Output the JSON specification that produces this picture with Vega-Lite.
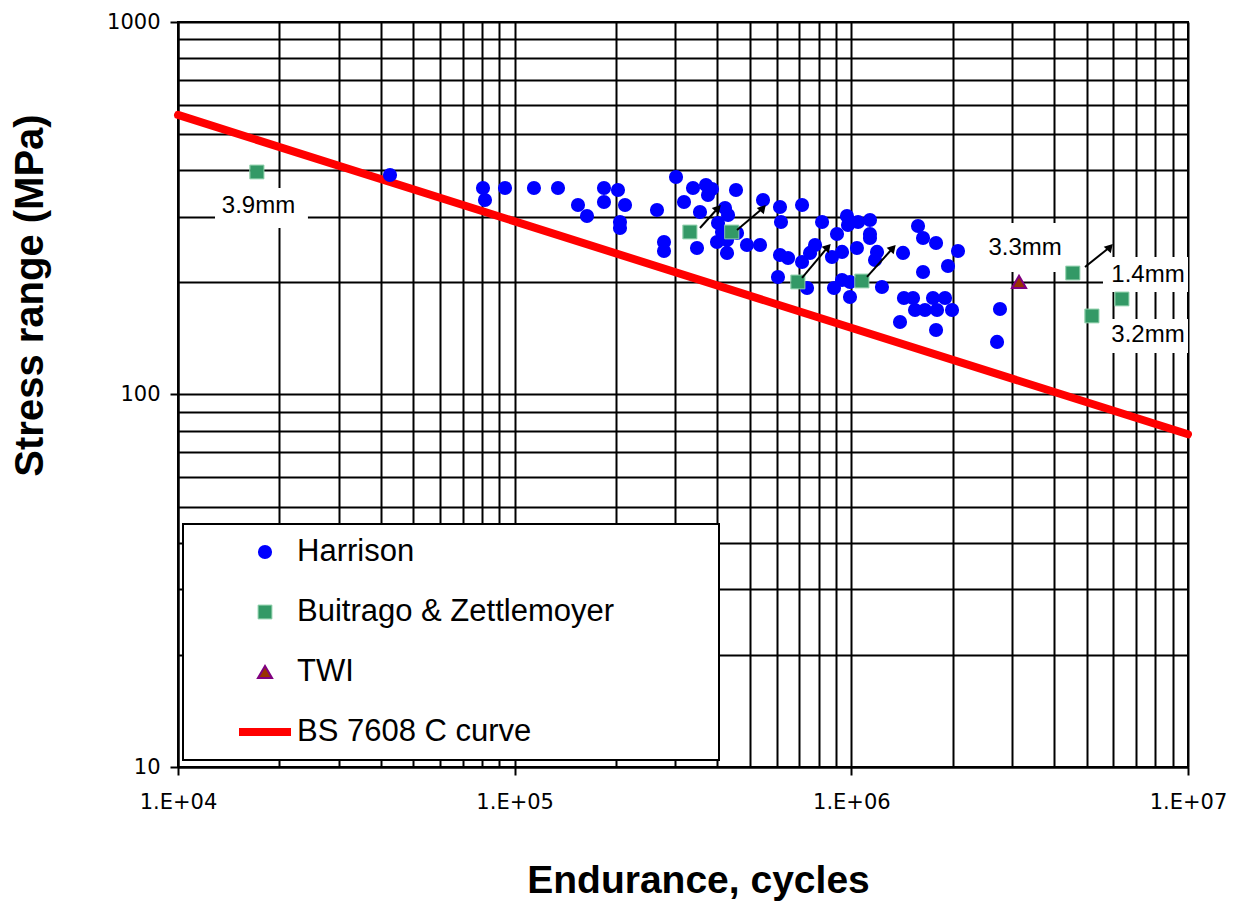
{
  "$schema": "https://vega.github.io/schema/vega-lite/v6.json",
  "width": 1010,
  "height": 745,
  "autosize": {"type": "none"},
  "padding": {"left": 178, "top": 22, "right": 48, "bottom": 137},
  "background": "white",
  "config": {
    "view": {"stroke": "black", "strokeWidth": 2},
    "font": "Liberation Sans",
    "legend": {
      "orient": "none",
      "legendX": 5,
      "legendY": 502,
      "padding": 12,
      "rowPadding": 28,
      "clipHeight": 32,
      "fillColor": "white",
      "strokeColor": "black",
      "strokeWidth": 2,
      "symbolOffset": 40,
      "labelOffset": 2,
      "labelFont": "Liberation Sans",
      "labelFontSize": 31,
      "labelColor": "black",
      "labelLimit": 900,
      "symbolOpacity": 1
    }
  },
  "datasets": {
    "pts": [
      {"s": "Harrison", "N": 42630, "S": 388.5},
      {"s": "Harrison", "N": 80520, "S": 358.4},
      {"s": "Harrison", "N": 81630, "S": 332.8},
      {"s": "Harrison", "N": 93610, "S": 358.4},
      {"s": "Harrison", "N": 114100, "S": 358.4},
      {"s": "Harrison", "N": 134500, "S": 358.4},
      {"s": "Harrison", "N": 154200, "S": 322.7},
      {"s": "Harrison", "N": 164000, "S": 301.5},
      {"s": "Harrison", "N": 184200, "S": 358.4},
      {"s": "Harrison", "N": 184200, "S": 328.7},
      {"s": "Harrison", "N": 202700, "S": 354},
      {"s": "Harrison", "N": 212700, "S": 322.7},
      {"s": "Harrison", "N": 205500, "S": 290.5},
      {"s": "Harrison", "N": 205500, "S": 279.9},
      {"s": "Harrison", "N": 264700, "S": 312.8},
      {"s": "Harrison", "N": 301500, "S": 383.7},
      {"s": "Harrison", "N": 277700, "S": 256.7},
      {"s": "Harrison", "N": 277700, "S": 242.8},
      {"s": "Harrison", "N": 338600, "S": 358.4},
      {"s": "Harrison", "N": 370100, "S": 365.1},
      {"s": "Harrison", "N": 385600, "S": 356.2},
      {"s": "Harrison", "N": 375200, "S": 343.2},
      {"s": "Harrison", "N": 454400, "S": 354},
      {"s": "Harrison", "N": 546600, "S": 332.8},
      {"s": "Harrison", "N": 318400, "S": 328.7},
      {"s": "Harrison", "N": 355200, "S": 309},
      {"s": "Harrison", "N": 421500, "S": 316.7},
      {"s": "Harrison", "N": 430300, "S": 303.3},
      {"s": "Harrison", "N": 401800, "S": 288.7},
      {"s": "Harrison", "N": 412900, "S": 273.1},
      {"s": "Harrison", "N": 427300, "S": 259.9},
      {"s": "Harrison", "N": 457600, "S": 271.4},
      {"s": "Harrison", "N": 489800, "S": 252},
      {"s": "Harrison", "N": 535500, "S": 252},
      {"s": "Harrison", "N": 348000, "S": 247.4},
      {"s": "Harrison", "N": 427300, "S": 239.9},
      {"s": "Harrison", "N": 399000, "S": 256.7},
      {"s": "Harrison", "N": 613900, "S": 318.7},
      {"s": "Harrison", "N": 618100, "S": 290.5},
      {"s": "Harrison", "N": 713900, "S": 322.7},
      {"s": "Harrison", "N": 818600, "S": 290.5},
      {"s": "Harrison", "N": 906600, "S": 269.7},
      {"s": "Harrison", "N": 970700, "S": 301.5},
      {"s": "Harrison", "N": 977400, "S": 285.1},
      {"s": "Harrison", "N": 1047000, "S": 290.5},
      {"s": "Harrison", "N": 1136000, "S": 294.1},
      {"s": "Harrison", "N": 1136000, "S": 269.7},
      {"s": "Harrison", "N": 1136000, "S": 263.1},
      {"s": "Harrison", "N": 1578000, "S": 283.4},
      {"s": "Harrison", "N": 1633000, "S": 263.1},
      {"s": "Harrison", "N": 1785000, "S": 255.1},
      {"s": "Harrison", "N": 2074000, "S": 242.8},
      {"s": "Harrison", "N": 1937000, "S": 221.3},
      {"s": "Harrison", "N": 1633000, "S": 213.3},
      {"s": "Harrison", "N": 1424000, "S": 239.9},
      {"s": "Harrison", "N": 613900, "S": 236.9},
      {"s": "Harrison", "N": 648600, "S": 232.5},
      {"s": "Harrison", "N": 713900, "S": 226.8},
      {"s": "Harrison", "N": 780300, "S": 252},
      {"s": "Harrison", "N": 754000, "S": 239.9},
      {"s": "Harrison", "N": 876200, "S": 234},
      {"s": "Harrison", "N": 938300, "S": 241.4},
      {"s": "Harrison", "N": 1039000, "S": 247.4},
      {"s": "Harrison", "N": 1192000, "S": 241.4},
      {"s": "Harrison", "N": 1176000, "S": 229.7},
      {"s": "Harrison", "N": 605500, "S": 206.8},
      {"s": "Harrison", "N": 738700, "S": 193.2},
      {"s": "Harrison", "N": 888200, "S": 193.2},
      {"s": "Harrison", "N": 938300, "S": 203},
      {"s": "Harrison", "N": 990900, "S": 200.5},
      {"s": "Harrison", "N": 990900, "S": 182.7},
      {"s": "Harrison", "N": 1233000, "S": 194.4},
      {"s": "Harrison", "N": 1433000, "S": 181.6},
      {"s": "Harrison", "N": 1525000, "S": 181.6},
      {"s": "Harrison", "N": 1748000, "S": 181.6},
      {"s": "Harrison", "N": 1898000, "S": 181.6},
      {"s": "Harrison", "N": 1546000, "S": 168.6},
      {"s": "Harrison", "N": 1655000, "S": 168.6},
      {"s": "Harrison", "N": 1797000, "S": 168.6},
      {"s": "Harrison", "N": 1991000, "S": 168.6},
      {"s": "Harrison", "N": 1395000, "S": 156.5},
      {"s": "Harrison", "N": 1785000, "S": 149},
      {"s": "Harrison", "N": 2764000, "S": 169.6},
      {"s": "Harrison", "N": 2709000, "S": 138.4},
      {"s": "Buitrago & Zettlemoyer", "N": 17170, "S": 395.7},
      {"s": "Buitrago & Zettlemoyer", "N": 331800, "S": 273.1},
      {"s": "Buitrago & Zettlemoyer", "N": 442000, "S": 273.1},
      {"s": "Buitrago & Zettlemoyer", "N": 694400, "S": 200.5},
      {"s": "Buitrago & Zettlemoyer", "N": 1076000, "S": 201.7},
      {"s": "Buitrago & Zettlemoyer", "N": 4553000, "S": 211.9},
      {"s": "Buitrago & Zettlemoyer", "N": 5188000, "S": 162.5},
      {"s": "Buitrago & Zettlemoyer", "N": 6369000, "S": 180.5},
      {"s": "TWI", "N": 3148000, "S": 200.5}
    ],
    "curve": [
      {"N": 10000, "S": 563},
      {"N": 10000000, "S": 78.2}
    ],
    "arrows": [
      {"N": 355200, "S": 279.9, "N2": 401800, "S2": 316.7},
      {"N": 457600, "S": 276.5, "N2": 546600, "S2": 316.7},
      {"N": 713900, "S": 205.5, "N2": 852000, "S2": 248.9},
      {"N": 1113000, "S": 206.8, "N2": 1329000, "S2": 247.4},
      {"N": 4943000, "S": 219.9, "N2": 5866000, "S2": 248.9}
    ],
    "heads": [
      {"N": 401800, "S": 316.7},
      {"N": 546600, "S": 316.7},
      {"N": 852000, "S": 248.9},
      {"N": 1329000, "S": 247.4},
      {"N": 5866000, "S": 248.9}
    ],
    "boxes": [
      {"N": 12880, "N2": 24320, "S": 358.4, "S2": 279.9},
      {"N": 2495000, "N2": 4224000, "S": 288.7, "S2": 213.3},
      {"N": 5591000, "N2": 10000000, "S": 234.0, "S2": 188.4},
      {"N": 5591000, "N2": 10000000, "S": 159.5, "S2": 129.2}
    ],
    "labels": [
      {"N": 17340, "S": 319.7, "t": "3.9mm"},
      {"N": 3281000, "S": 246.6, "t": "3.3mm"},
      {"N": 7605000, "S": 209.4, "t": "1.4mm"},
      {"N": 7605000, "S": 144.5, "t": "3.2mm"}
    ]
  },
  "encoding": {
    "x": {
      "field": "N",
      "type": "quantitative",
      "scale": {"type": "log", "domain": [10000, 10000000], "nice": false},
      "axis": {
        "values": [10000, 20000, 30000, 40000, 50000, 60000, 70000, 80000, 90000, 100000, 200000, 300000, 400000, 500000, 600000, 700000, 800000, 900000, 1000000, 2000000, 3000000, 4000000, 5000000, 6000000, 7000000, 8000000, 9000000, 10000000],
        "title": "Endurance, cycles",
        "titleFont": "Liberation Sans",
        "titleFontSize": 39,
        "titleFontWeight": "bold",
        "titleColor": "black",
        "titlePadding": 49,
        "titleX": 520,
        "labelFont": "DejaVu Sans",
        "labelFontSize": 21,
        "labelColor": "black",
        "labelPadding": 16,
        "labelExpr": "abs(log(datum.value)/LN10 - round(log(datum.value)/LN10)) < 0.001 ? '1.E+0' + round(log(datum.value)/LN10) : ''",
        "labelOverlap": false,
        "labelFlush": false,
        "labelBound": false,
        "grid": true,
        "gridColor": "black",
        "gridWidth": 2,
        "gridOpacity": 1,
        "domainColor": "black",
        "domainWidth": 2,
        "tickColor": "black",
        "tickWidth": 2,
        "tickSize": 8,
        "tickOpacity": {"condition": {"test": "abs(log(datum.value)/LN10 - round(log(datum.value)/LN10)) < 0.001", "value": 1}, "value": 0}
      }
    },
    "y": {
      "field": "S",
      "type": "quantitative",
      "scale": {"type": "log", "domain": [10, 1000], "nice": false},
      "axis": {
        "values": [10, 20, 30, 40, 50, 60, 70, 80, 90, 100, 200, 300, 400, 500, 600, 700, 800, 900, 1000],
        "title": "Stress range (MPa)",
        "titleFont": "Liberation Sans",
        "titleFontSize": 40,
        "titleFontWeight": "bold",
        "titleColor": "black",
        "titlePadding": 56,
        "titleY": 273,
        "labelFont": "DejaVu Sans",
        "labelFontSize": 21,
        "labelColor": "black",
        "labelPadding": 10,
        "labelExpr": "abs(log(datum.value)/LN10 - round(log(datum.value)/LN10)) < 0.001 ? format(datum.value, 'd') : ''",
        "labelOverlap": false,
        "labelFlush": false,
        "labelBound": false,
        "grid": true,
        "gridColor": "black",
        "gridWidth": 2,
        "gridOpacity": 1,
        "domainColor": "black",
        "domainWidth": 2,
        "tickColor": "black",
        "tickWidth": 2,
        "tickSize": 8,
        "tickOpacity": {"condition": {"test": "abs(log(datum.value)/LN10 - round(log(datum.value)/LN10)) < 0.001", "value": 1}, "value": 0}
      }
    }
  },
  "layer": [
    {
      "data": {"name": "boxes"},
      "mark": {"type": "rect", "fill": "white"},
      "encoding": {
        "x2": {"field": "N2"},
        "y2": {"field": "S2"}
      }
    },
    {
      "data": {"name": "curve"},
      "mark": {"type": "line", "color": "#FF0000", "strokeWidth": 8, "strokeCap": "round"},
      "encoding": {}
    },
    {
      "data": {"name": "pts"},
      "mark": {"type": "point", "filled": true, "opacity": 1, "strokeCap": "round"},
      "encoding": {
        "color": {
          "field": "s",
          "type": "nominal",
          "scale": {"domain": ["Harrison", "Buitrago & Zettlemoyer", "TWI", "BS 7608 C curve"], "range": ["#0000FF", "#339966", "#993300", "#FF0000"]},
          "legend": {"title": null, "labelExpr": "datum.label + '\u2800\u2800\u2800\u2800'"}
        },
        "shape": {
          "field": "s",
          "type": "nominal",
          "scale": {"domain": ["Harrison", "Buitrago & Zettlemoyer", "TWI", "BS 7608 C curve"], "range": ["circle", "square", "triangle-up", "stroke"]},
          "legend": {"title": null, "labelExpr": "datum.label + '\u2800\u2800\u2800\u2800'"}
        },
        "size": {
          "field": "s",
          "type": "nominal",
          "scale": {"type": "ordinal", "domain": ["Harrison", "Buitrago & Zettlemoyer", "TWI", "BS 7608 C curve"], "range": [200, 190, 200, 2704]},
          "legend": {"title": null, "labelExpr": "datum.label + '\u2800\u2800\u2800\u2800'"}
        },
        "stroke": {
          "field": "s",
          "type": "nominal",
          "scale": {"domain": ["Harrison", "Buitrago & Zettlemoyer", "TWI", "BS 7608 C curve"], "range": ["transparent", "#8ccfa9", "#800080", "#FF0000"]},
          "legend": {"title": null, "labelExpr": "datum.label + '\u2800\u2800\u2800\u2800'"}
        },
        "strokeWidth": {
          "field": "s",
          "type": "nominal",
          "scale": {"type": "ordinal", "domain": ["Harrison", "Buitrago & Zettlemoyer", "TWI", "BS 7608 C curve"], "range": [1, 1, 2, 8]},
          "legend": {"title": null, "labelExpr": "datum.label + '\u2800\u2800\u2800\u2800'"}
        }
      }
    },
    {
      "data": {"name": "arrows"},
      "mark": {"type": "rule", "color": "black", "strokeWidth": 2},
      "encoding": {
        "x2": {"field": "N2"},
        "y2": {"field": "S2"}
      }
    },
    {
      "data": {"name": "heads"},
      "mark": {"type": "point", "shape": "triangle-up", "filled": true, "color": "black", "opacity": 1, "size": 90, "angle": 42},
      "encoding": {}
    },
    {
      "data": {"name": "labels"},
      "mark": {"type": "text", "font": "Liberation Sans", "fontSize": 24, "color": "black", "align": "center", "baseline": "middle"},
      "encoding": {
        "text": {"field": "t", "type": "nominal"}
      }
    }
  ]
}
